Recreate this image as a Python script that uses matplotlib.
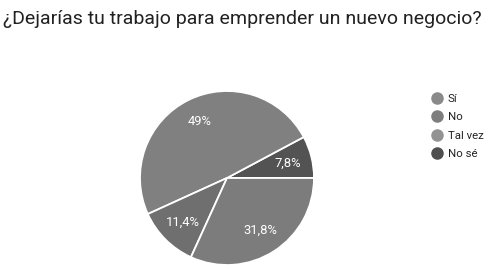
import matplotlib.pyplot as plt
from matplotlib.lines import Line2D

# Datos (orden de la leyenda)
respuestas = ["Sí", "No", "Tal vez", "No sé"]
porcentajes = [49.0, 31.8, 11.4, 7.8]
etiquetas = ["49%", "31,8%", "11,4%", "7,8%"]
colores = ["#808080", "#7c7c7c", "#6f6f6f", "#535353"]
colores_leyenda = ["#8a8a8a", "#7e7e7e", "#939393", "#4f4f4f"]

# orden en que se dibujan los sectores (antihorario desde las 3 en punto)
orden = [3, 0, 2, 1]

plt.rcParams['font.family'] = ['Roboto', 'DejaVu Sans']

fig = plt.figure(figsize=(4.91, 2.69), dpi=100)
fig.text(0.006, 0.93, "¿Dejarías tu trabajo para emprender un nuevo negocio?",
         fontsize=14.0, color="#212121", va="center", ha="left")

ax = fig.add_axes([0.2851, 0.0149, 0.3544, 0.6468])
wedges, textos = ax.pie(
    [porcentajes[i] for i in orden],
    labels=[etiquetas[i] for i in orden],
    colors=[colores[i] for i in orden],
    startangle=0, counterclock=True,
    labeldistance=0.72,
    wedgeprops=dict(edgecolor="white", linewidth=1.3),
    textprops=dict(color="white", fontsize=9.4, ha="center", va="center"),
)
ax.set_xlim(-1.0, 1.0)
ax.set_ylim(-1.0, 1.0)
ax.set_aspect("equal")

handles = [Line2D([], [], marker="o", linestyle="", markersize=8,
                  markerfacecolor=c, markeredgecolor=c) for c in colores_leyenda]
fig.legend(handles, respuestas, loc="upper left", bbox_to_anchor=(0.855, 0.69),
           frameon=False, fontsize=8.2, handletextpad=0.35, labelspacing=0.75,
           handlelength=1.2, labelcolor="#222222")

fig.savefig("out.png", dpi=100, facecolor="white")
